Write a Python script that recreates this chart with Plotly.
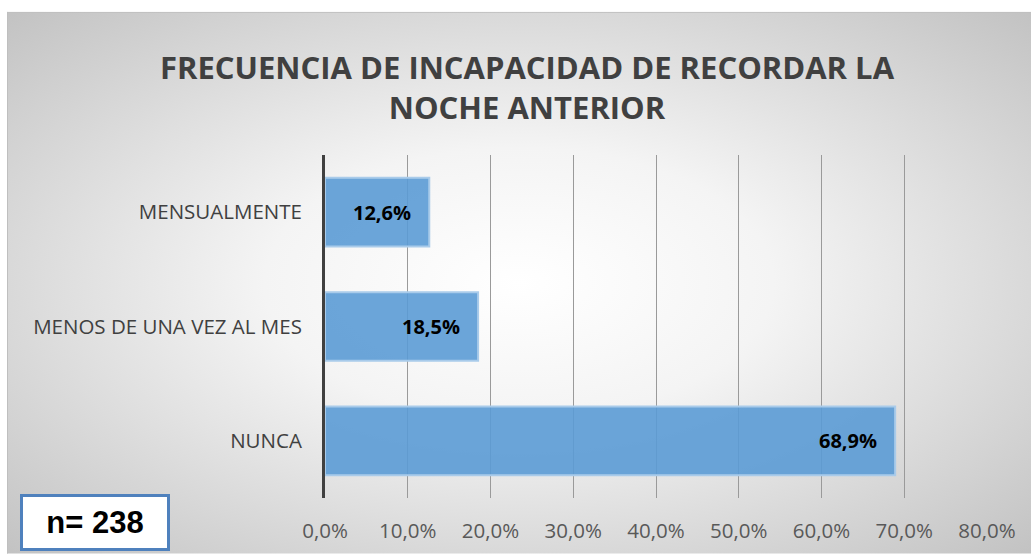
import base64
import plotly.graph_objects as go

categories = ["NUNCA", "MENOS DE UNA VEZ AL MES", "MENSUALMENTE"]
values = [68.9, 18.5, 12.6]
labels = ["68,9%", "18,5%", "12,6%"]
tick_vals = [0, 10, 20, 30, 40, 50, 60, 70, 80]
tick_text = ["0,0%", "10,0%", "20,0%", "30,0%", "40,0%", "50,0%", "60,0%", "70,0%", "80,0%"]
title_text = "FRECUENCIA DE INCAPACIDAD DE RECORDAR LA<br>NOCHE ANTERIOR"
n_text = "n= 238"

W, H = 1031, 556
L, R, T, B = 325, 44, 155, 56
pw, ph = W - L - R, H - T - B

def px_x(px):
    return (px - L) / pw

def px_y(py):
    return (H - B - py) / ph

bg_w, bg_h = 1024, 545
svg = f'''<svg xmlns="http://www.w3.org/2000/svg" width="{bg_w}" height="{bg_h}" viewBox="0 0 {bg_w} {bg_h}" preserveAspectRatio="none">
<defs><radialGradient id="g" cx="50%" cy="50%" r="71%">
<stop offset="0" stop-color="#ffffff"/><stop offset="0.35" stop-color="#f4f4f4"/><stop offset="1" stop-color="#c2c2c2"/>
</radialGradient></defs>
<rect x="0" y="0" width="{bg_w}" height="{bg_h}" fill="url(#g)"/>
<line x1="0" y1="0.5" x2="{bg_w}" y2="0.5" stroke="#bfbfbf" stroke-width="1"/>
<line x1="0.5" y1="0" x2="0.5" y2="{bg_h}" stroke="#bfbfbf" stroke-width="1"/>
</svg>'''
src = "data:image/svg+xml;base64," + base64.b64encode(svg.encode()).decode()

fig = go.Figure()
fig.add_trace(go.Bar(
    y=categories, x=values, orientation="h",
    marker=dict(color="rgba(91,155,213,0.9)", line=dict(color="#a9cbea", width=2)),
    width=0.6,
    hoverinfo="skip",
))

value_annotations = [
    dict(x=v, y=c, xref="x", yref="y", text=t, showarrow=False,
         xanchor="right", yanchor="middle", xshift=-16,
         font=dict(family="Open Sans", size=20, color="#000000", weight="bold"))
    for c, v, t in zip(categories, values, labels)
]

fig.update_layout(
    width=W, height=H,
    margin=dict(l=L, r=R, t=T, b=B),
    paper_bgcolor="white",
    plot_bgcolor="rgba(0,0,0,0)",
    showlegend=False,
    title=dict(text=title_text, x=527 / W, xref="container", xanchor="center",
               y=1 - 79 / H, yref="container", yanchor="middle",
               font=dict(family="Open Sans", size=31, color="#404040", weight="bold")),
    images=[dict(source=src, xref="paper", yref="paper",
                 x=px_x(7), y=px_y(11), sizex=(W - 7) / pw, sizey=(H - 11) / ph,
                 xanchor="left", yanchor="top", sizing="stretch", layer="below")],
    xaxis=dict(range=[0, 80], tickvals=tick_vals, ticktext=tick_text,
               showgrid=True, gridcolor="#9a9a9a", gridwidth=1.3,
               zeroline=False, showline=False, ticks="",
               ticklabelstandoff=18,
               tickfont=dict(family="Open Sans", size=20.5, color="#595959")),
    yaxis=dict(showgrid=False, zeroline=False, showline=True, linecolor="#404040", linewidth=3,
               ticks="", ticklabelstandoff=16, range=[-0.5, 2.5],
               tickfont=dict(family="Open Sans", size=20.5, color="#404040")),
    annotations=value_annotations + [dict(text=n_text, xref="paper", yref="paper",
                      x=px_x(95), y=px_y(524.5), xanchor="center", yanchor="middle",
                      showarrow=False, bgcolor="white", bordercolor="#4f81bd", borderwidth=3,
                      borderpad=2, width=140, height=47,
                      font=dict(family="Liberation Sans", size=31, color="#000000", weight="bold"))],
)

fig.write_html("out.html", config={"displayModeBar": False},
               post_script="document.body.style.margin='0';")
